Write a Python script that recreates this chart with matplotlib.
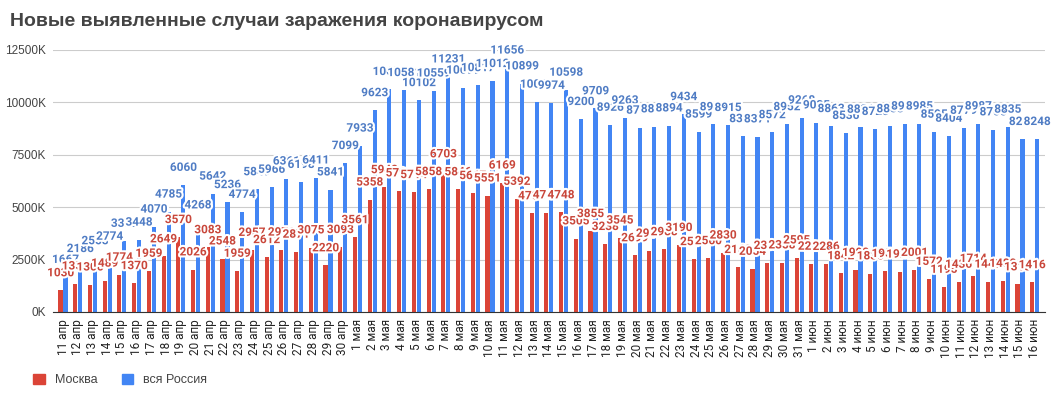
import matplotlib.pyplot as plt
import matplotlib.patheffects as pe
from matplotlib.patches import Patch
import numpy as np

days = ['11 апр', '12 апр', '13 апр', '14 апр', '15 апр', '16 апр', '17 апр', '18 апр', '19 апр', '20 апр',
        '21 апр', '22 апр', '23 апр', '24 апр', '25 апр', '26 апр', '27 апр', '28 апр', '29 апр', '30 апр',
        '1 мая', '2 мая', '3 мая', '4 мая', '5 мая', '6 мая', '7 мая', '8 мая', '9 мая', '10 мая',
        '11 мая', '12 мая', '13 мая', '14 мая', '15 мая', '16 мая', '17 мая', '18 мая', '19 мая', '20 мая',
        '21 мая', '22 мая', '23 мая', '24 мая', '25 мая', '26 мая', '27 мая', '28 мая', '29 мая', '30 мая',
        '31 мая', '1 июн', '2 июн', '3 июн', '4 июн', '5 июн', '6 июн', '7 июн', '8 июн', '9 июн',
        '10 июн', '11 июн', '12 июн', '13 июн', '14 июн', '15 июн', '16 июн']

moscow = [1030, 1355, 1306, 1489, 1774, 1370, 1959, 2649, 3570, 2026,
          3083, 2548, 1959, 2957, 2612, 2971, 2871, 3075, 2220, 3093,
          3561, 5358, 5948, 5795, 5714, 5858, 6703, 5846, 5667, 5551,
          6169, 5392, 4703, 4747, 4748, 3505, 3855, 3238, 3545, 2699,
          2913, 2988, 3190, 2516, 2560, 2830, 2140, 2054, 2332, 2358,
          2595, 2297, 2286, 1842, 1998, 1836, 1951, 1921, 2001, 1572,
          1195, 1436, 1714, 1445, 1480, 1313, 1416]

russia = [1667, 2186, 2558, 2774, 3388, 3448, 4070, 4785, 6060, 4268,
          5642, 5236, 4774, 5849, 5966, 6361, 6198, 6411, 5841, 7099,
          7933, 9623, 10633, 10581, 10102, 10559, 11231, 10699, 10817, 11012,
          11656, 10899, 10028, 9974, 10598, 9200, 9709, 8926, 9263, 8788,
          8849, 8894, 9434, 8599, 8946, 8915, 8383, 8371, 8572, 8952,
          9268, 9035, 8863, 8536, 8831, 8726, 8855, 8984, 8985, 8595,
          8404, 8779, 8987, 8706, 8835, 8246, 8248]

red = '#db4437'
blue = '#4285f4'
red_txt = '#c9473b'
blue_txt = '#4f7cc4'

fig = plt.figure(figsize=(10.58, 3.94), dpi=100)
ax = fig.add_axes([53/1058, 82/394, (1045-53)/1058, 262/394])

x = np.arange(len(days))
w = 0.28
ax.bar(x - 0.17, moscow, w, color=red, zorder=2)
ax.bar(x + 0.17, russia, w, color=blue, zorder=2)

stroke = [pe.withStroke(linewidth=3, foreground='white')]
for i, v in enumerate(russia):
    ax.annotate(str(v), (x[i] + 0.17, v), xytext=(0, 8), textcoords='offset points',
                ha='center', va='bottom', fontsize=8.5, fontweight='bold', color=blue_txt,
                family='Roboto', path_effects=stroke, zorder=3, annotation_clip=False)
for i, v in enumerate(moscow):
    ax.annotate(str(v), (x[i] - 0.17, v), xytext=(0, 8), textcoords='offset points',
                ha='center', va='bottom', fontsize=8.5, fontweight='bold', color=red_txt,
                family='Roboto', path_effects=stroke, zorder=4, annotation_clip=False)

ax.set_xlim(-0.68, 66.7)
ax.set_ylim(0, 12500)
ax.set_yticks([0, 2500, 5000, 7500, 10000, 12500])
ax.set_yticklabels([f'{t}K' for t in [0, 2500, 5000, 7500, 10000, 12500]],
                   fontsize=8.5, color='#444444', family='Liberation Sans')
ax.set_xticks(x)
ax.set_xticklabels(days, rotation=90, fontsize=8.5, color='#222222', family='Roboto')
ax.tick_params(axis='both', length=0, pad=5)
ax.grid(axis='y', color='#cccccc', linewidth=0.8, zorder=0)
for s in ['top', 'right', 'left']:
    ax.spines[s].set_visible(False)
ax.spines['bottom'].set_color('#333333')

fig.text(10/1058, 1 - 22/394, 'Новые выявленные случаи заражения коронавирусом',
         fontsize=14, fontweight='bold', color='#444444', family='Liberation Sans', va='center')

handles = [Patch(color=red, label='Москва'), Patch(color=blue, label='вся Россия')]
fig.legend(handles=handles, loc='center left', bbox_to_anchor=(22/1058, 1 - 380/394), ncol=2,
           frameon=False, prop={'family': 'Liberation Sans', 'size': 9}, labelcolor='#444444',
           handlelength=0.9, handleheight=0.9, handletextpad=0.8, columnspacing=2.0)

fig.savefig('out.png', dpi=100)
